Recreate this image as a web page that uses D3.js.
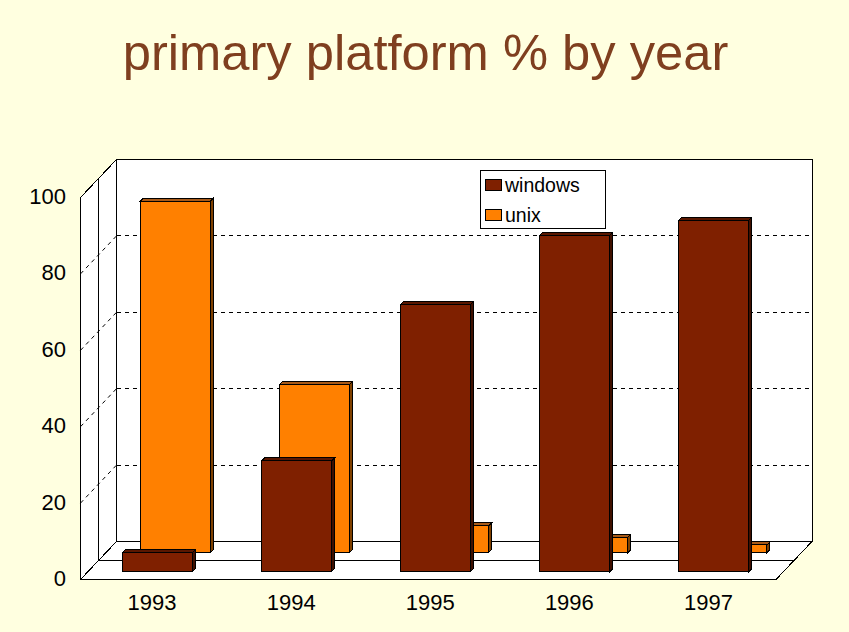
<!DOCTYPE html>
<html><head><meta charset="utf-8">
<script src="https://cdn.jsdelivr.net/npm/d3@7"></script>
<style>html,body{margin:0;padding:0;background:#FFFFE0;overflow:hidden}svg{display:block;font-family:"Liberation Sans",Arial,sans-serif}</style>
</head><body><svg id="c" width="849" height="632"></svg>
<script>
const titleText = "primary platform % by year";
const years = ["1993","1994","1995","1996","1997"];
const windowsValues = [5, 29, 70, 88, 92];
const unixValues = [92, 44, 7, 4, 2];
const yTicks = [0,20,40,60,80,100];
const seriesNames = ["windows","unix"];

const svg = d3.select("#c");
svg.append("rect").attr("width",849).attr("height",632).attr("fill","#FFFFE0");
svg.append("text").attr("x",425.5).attr("y",70).attr("text-anchor","middle")
  .attr("font-size",50.7).attr("fill","#7F3F1F").text(titleText);

const plotL=80.5, plotR=776, plotB=579.5, plotT=197.5, D=36, Dy=38;
const x = d3.scaleBand().domain(years).range([plotL,plotR]);
const y = d3.scaleLinear().domain([0,100]).range([plotB,plotT]);
const g = svg.append("g").attr("shape-rendering","crispEdges");
const poly=(pts,fill)=>g.append("polygon").attr("points",pts.map(p=>p.join(",")).join(" ")).attr("fill",fill).attr("stroke","#000").attr("stroke-width",1);
const line=(x1,y1,x2,y2,dash,sr)=>g.append("line").attr("x1",x1).attr("y1",y1).attr("x2",x2).attr("y2",y2).attr("stroke","#000").attr("stroke-dasharray",dash||null).attr("shape-rendering",sr||"crispEdges");

// walls + floor
poly([[plotL+D,y(100)-Dy],[plotR+D,y(100)-Dy],[plotR+D,y(0)-Dy],[plotL+D,y(0)-Dy]],"#fff");
poly([[plotL,y(100)],[plotL+D,y(100)-Dy],[plotL+D,y(0)-Dy],[plotL,y(0)]],"#fff");
poly([[plotL,y(0)],[plotL+D,y(0)-Dy],[plotR+D,y(0)-Dy],[plotR,y(0)]],"#fff");
line(plotL+D/2,y(100)-Dy/2,plotL+D/2,y(0)-Dy/2);
line(plotL+D/2,y(0)-Dy/2,plotR+D/2,y(0)-Dy/2);
// gridlines
yTicks.filter(t=>t>0&&t<100).forEach(t=>{
  line(plotL+D,y(t)-Dy,plotR+D,y(t)-Dy,"4 4");
  line(plotL,y(t),plotL+D,y(t)-Dy,"4 4","auto");
});

// bars
const barW=70, cap=3;
function bar(cat,val,dx,dyRow,colors){
  const x0=x(cat)+36+dx, x1=x0+barW, yb=y(0)-dyRow, yt=yb-(y(0)-y(val));
  poly([[x0,yt],[x0+cap,yt-cap],[x1+cap,yt-cap],[x1,yt]],colors.cap);
  poly([[x1,yt],[x1+cap,yt-cap],[x1+cap,yb-cap],[x1,yb]],colors.side);
  g.append("rect").attr("x",x0).attr("y",yt).attr("width",barW).attr("height",yb-yt).attr("fill",colors.face).attr("stroke","#000");
}
const unixC={face:"#FF8000",cap:"#A85A18",side:"#7F4000"}, winC={face:"#7F2000",cap:"#5A1700",side:"#3F1000"};
years.forEach((c,i)=>bar(c,unixValues[i],24,27,unixC));
years.forEach((c,i)=>bar(c,windowsValues[i],6,8,winC));

// axes
const yAxis=d3.axisLeft(y).tickValues(yTicks).tickSize(0).tickPadding(0);
const ya=svg.append("g").attr("transform","translate(66,-1)").call(yAxis);
ya.select(".domain").remove();
ya.selectAll("text").attr("font-size",22).attr("fill","#000").attr("font-family",'"Liberation Sans",Arial,sans-serif');
const xAxis=d3.axisBottom(x).tickSize(0).tickPadding(0);
const xa=svg.append("g").attr("transform","translate(2,594)").call(xAxis);
xa.select(".domain").remove();
xa.selectAll("text").attr("font-size",22).attr("fill","#000").attr("dy","0.72em").attr("font-family",'"Liberation Sans",Arial,sans-serif');

// legend
const lg=svg.append("g");
lg.append("rect").attr("x",480.5).attr("y",170.5).attr("width",125).attr("height",58).attr("fill","#fff").attr("stroke","#000");
seriesNames.forEach((n,i)=>{
  const yy=179.5+i*30;
  lg.append("rect").attr("x",485.5).attr("y",yy).attr("width",16).attr("height",11).attr("fill",i?unixC.face:winC.face).attr("stroke","#000");
  lg.append("text").attr("x",505).attr("y",yy+12).attr("font-size",19.5).attr("fill","#000").text(n);
});
</script></body></html>
